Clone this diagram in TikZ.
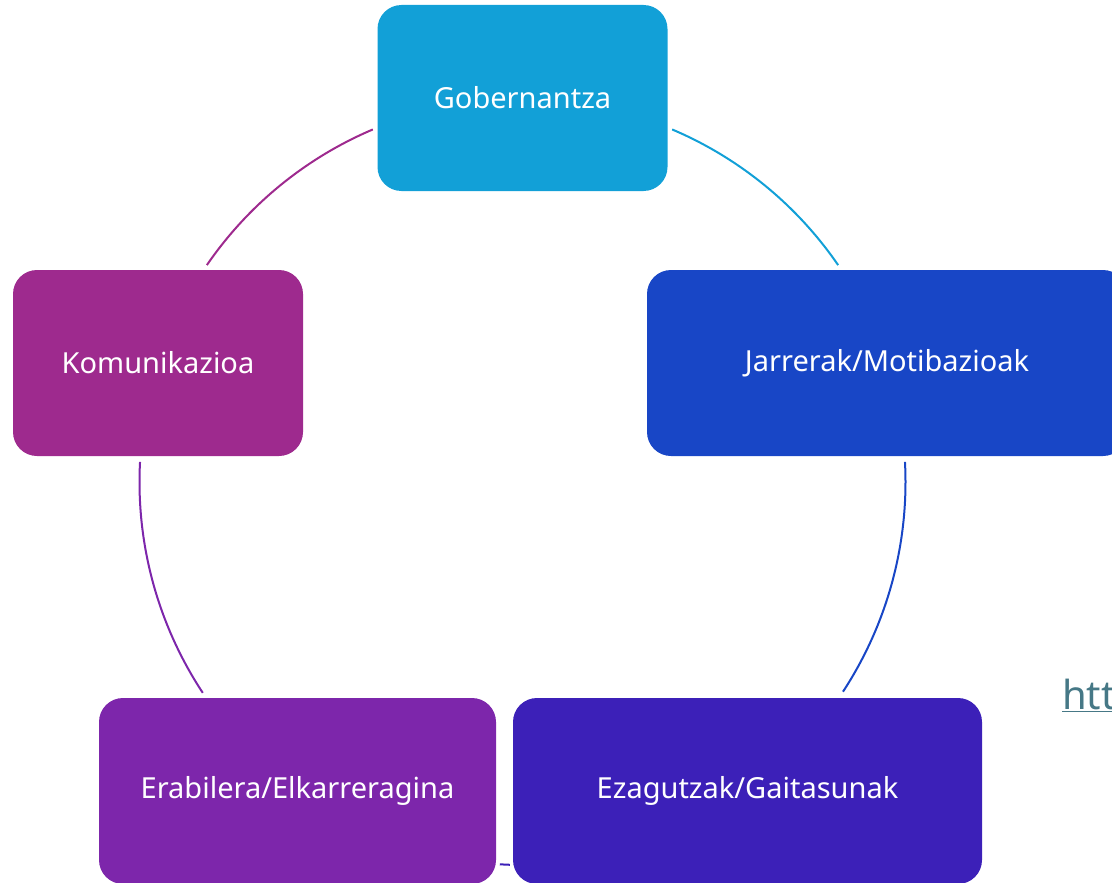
\documentclass[tikz,border=0pt]{standalone}
\usepackage{fontspec}
\setmainfont{Noto Sans}
\usetikzlibrary{calc}
\definecolor{cgob}{HTML}{12A0D7}
\definecolor{cjar}{HTML}{1846C6}
\definecolor{ceza}{HTML}{3C20B8}
\definecolor{cera}{HTML}{7D26AB}
\definecolor{ckom}{HTML}{9E2A8E}
\definecolor{clink}{HTML}{467886}
\begin{document}
\begin{tikzpicture}[x=1pt,y=-1pt,
  box/.style={rectangle, rounded corners=24pt, minimum height=186pt, inner sep=0pt,
    text=white, font=\fontsize{29}{35}\selectfont},
  ring/.style={line width=2pt}]
\useasboundingbox (0,0) rectangle (1112,883);
\clip (0,0) rectangle (1112,883);
\coordinate (c) at (522.5,482);
% ring segments (free ends as named coordinates)
\coordinate (a1) at ($(c)+(-67:383)$);
\coordinate (a2) at ($(c)+(-3:383)$);
\coordinate (a3) at ($(c)+(91.9:383)$);
\coordinate (a4) at ($(c)+(146.6:383)$);
\coordinate (a5) at ($(c)+(214.5:383)$);
\draw[ring, cgob] (a1) arc[start angle=-67, end angle=-34.5, radius=383];
\draw[ring, cjar] (a2) arc[start angle=-3, end angle=33.2, radius=383];
\draw[ring, ceza] (a3) arc[start angle=91.9, end angle=93.4, radius=383];
\draw[ring, cera] (a4) arc[start angle=146.6, end angle=183, radius=383];
\draw[ring, ckom] (a5) arc[start angle=214.5, end angle=247, radius=383];
% boxes
\node[box, fill=cgob, minimum width=290pt] (gob) at (522.5,98) {Gobernantza};
\node[box, fill=cjar, minimum width=480pt] (jar) at (887,363) {Jarrerak/Motibazioak};
\node[box, fill=ckom, minimum width=290pt] (kom) at (158,363) {Komunikazioa};
\node[box, fill=cera, minimum width=397pt] (era) at (297.5,791) {Erabilera/Elkarreragina};
\node[box, fill=ceza, minimum width=469pt] (eza) at (747.5,791) {Ezagutzak/Gaitasunak};
% cut-off link text
\node[anchor=base west, inner sep=0pt, text=clink, font=\fontsize{40}{48}\selectfont] (link) at (1062,709) {\underline{htt}};
\end{tikzpicture}
\end{document}
